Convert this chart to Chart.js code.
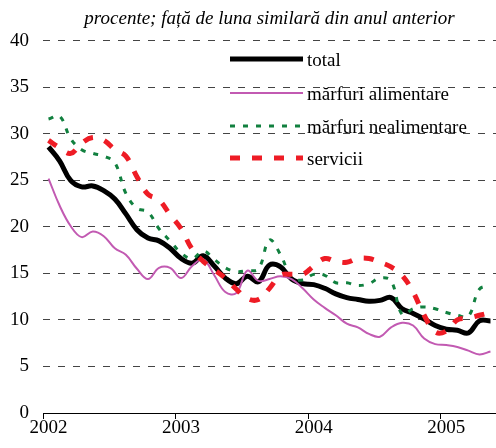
<!DOCTYPE html>
<html>
<head>
<meta charset="utf-8">
<script src="https://cdn.jsdelivr.net/npm/chart.js@4.4.0/dist/chart.umd.min.js"></script>
<style>
  html, body { margin: 0; padding: 0; background: #fff; }
  #wrap { width: 496px; height: 448px; }
</style>
</head>
<body>
<div id="wrap"><canvas id="inflChart"></canvas></div>
<script>
// ian 2002 - mai 2005, date lunare
const years = ['2002', '2003', '2004', '2005'];
const monthsCount = 41;

const total = [28.6, 27.1, 25.0, 24.3, 24.4, 23.9, 23.0, 21.4, 19.7, 18.8,
  18.5, 17.7, 16.6, 16.1, 16.9, 15.8, 14.5, 13.9, 14.7, 14.1,
  15.9, 15.7, 14.4, 13.9, 13.8, 13.4, 12.8, 12.4, 12.2, 12.0,
  12.1, 12.4, 11.2, 10.7, 10.1, 9.4, 9.0, 8.9, 8.6, 9.9, 9.9];

const alimentare = [25.2, 22.3, 20.1, 18.9, 19.5, 19.0, 17.7, 17.0, 15.5, 14.4,
  15.6, 15.6, 14.5, 15.8, 16.5, 14.8, 13.0, 12.9, 15.3, 14.2,
  14.4, 14.7, 14.4, 13.4, 12.2, 11.3, 10.5, 9.6, 9.2, 8.5,
  8.2, 9.2, 9.7, 9.4, 8.0, 7.4, 7.3, 7.1, 6.7, 6.3, 6.6];

const nealimentare = [31.6, 31.9, 29.5, 28.3, 27.9, 27.6, 26.9, 23.6, 22.0, 21.6,
  19.8, 18.5, 17.2, 16.6, 17.4, 16.5, 15.6, 15.2, 15.3, 15.5,
  18.6, 17.0, 14.6, 14.3, 14.9, 14.8, 14.0, 14.0, 13.7, 13.9,
  14.5, 14.2, 10.6, 11.2, 11.4, 11.2, 10.8, 10.5, 10.4, 13.3, 13.7];

const servicii = [29.3, 28.5, 27.9, 29.0, 29.6, 29.3, 28.3, 27.6, 25.4, 23.5,
  22.9, 21.3, 19.8, 17.6, 16.3, 15.4, 14.5, 13.3, 12.3, 12.2,
  13.4, 14.8, 14.9, 14.9, 15.8, 16.6, 16.3, 16.2, 16.6, 16.6,
  16.2, 15.7, 14.8, 13.0, 10.5, 8.7, 8.8, 10.0, 10.2, 10.5, 10.8];

const labels = [];
for (let i = 0; i < monthsCount; i++) {
  labels.push(years[Math.floor(i / 12)] + '-' + String(i % 12 + 1).padStart(2, '0'));
}

const serif = '"Liberation Serif", "Times New Roman", serif';

// legenda e desenata in interiorul graficului, ca in original
const legendInside = {
  id: 'legendInside',
  afterDraw(chart) {
    const ctx = chart.ctx;
    const rows = [59, 93, 126, 158];
    ctx.save();
    ctx.font = '19px ' + serif;
    ctx.textBaseline = 'alphabetic';
    chart.data.datasets.forEach((ds, i) => {
      const y = rows[i];
      ctx.beginPath();
      ctx.setLineDash(ds.borderDash || []);
      ctx.lineWidth = ds.borderWidth;
      ctx.strokeStyle = ds.borderColor;
      ctx.moveTo(230, y);
      ctx.lineTo(303, y);
      ctx.stroke();
      ctx.setLineDash([]);
      ctx.fillStyle = '#000';
      ctx.fillText(ds.label, 307, y + 7);
    });
    ctx.restore();
  }
};

new Chart(document.getElementById('inflChart'), {
  type: 'line',
  data: {
    labels: labels,
    datasets: [
      { label: 'total', data: total, borderColor: '#000000', borderWidth: 5, order: 3 },
      { label: 'mărfuri alimentare', data: alimentare, borderColor: '#c25ab2', borderWidth: 2, order: 2 },
      { label: 'mărfuri nealimentare', data: nealimentare, borderColor: '#11803f', borderWidth: 3, borderDash: [5, 8], order: 1 },
      { label: 'servicii', data: servicii, borderColor: '#ee1c25', borderWidth: 5, borderDash: [10, 12], order: 0 }
    ]
  },
  options: {
    responsive: true,
    maintainAspectRatio: false,
    animation: false,
    devicePixelRatio: 1,
    elements: {
      line: { tension: 0.4, borderCapStyle: 'butt', fill: false },
      point: { radius: 0, hoverRadius: 0 }
    },
    layout: { padding: { left: 0, right: 0, top: 0, bottom: 0 } },
    plugins: {
      legend: { display: false },
      tooltip: { enabled: false },
      title: {
        display: true,
        text: 'procente; față de luna similară din anul anterior',
        fullSize: false,
        color: '#000',
        font: { family: serif, size: 19, style: 'italic', weight: 'normal' },
        padding: { top: 8, bottom: 10 }
      }
    },
    scales: {
      x: {
        type: 'category',
        offset: true,
        grid: {
          offset: true,
          drawOnChartArea: false,
          drawTicks: true,
          tickLength: 6,
          color: ctx => ctx.index % 12 === 0 ? '#000' : 'rgba(0,0,0,0)',
          tickColor: ctx => ctx.index % 12 === 0 ? '#000' : 'rgba(0,0,0,0)'
        },
        border: { display: true, color: '#000', width: 1 },
        ticks: {
          autoSkip: false,
          maxRotation: 0,
          padding: 0,
          color: '#000',
          font: { family: serif, size: 19, lineHeight: 1 },
          callback: (v, i) => i % 12 === 0 ? years[i / 12] : ''
        },
        afterFit: s => { s.height = 35; }
      },
      y: {
        min: 0,
        max: 40,
        ticks: {
          stepSize: 5,
          padding: 14,
          color: '#000',
          font: { family: serif, size: 19 }
        },
        grid: {
          drawTicks: false,
          lineWidth: 1,
          color: ctx => ctx.tick && ctx.tick.value === 0 ? 'rgba(0,0,0,0)' : '#444'
        },
        border: { display: false, dash: [7, 8] },
        afterFit: s => { s.width = 43; }
      }
    }
  },
  plugins: [legendInside]
});
</script>
</body>
</html>
